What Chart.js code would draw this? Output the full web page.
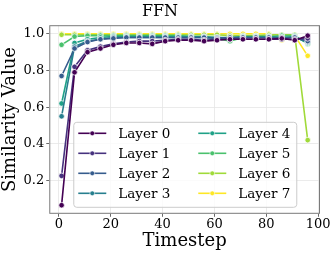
<!DOCTYPE html>
<html>
<head>
<meta charset="utf-8">
<script src="https://cdn.jsdelivr.net/npm/chart.js@4/dist/chart.umd.min.js"></script>
<style>
html,body{margin:0;padding:0;background:#fff;}
#wrap{width:335px;height:254px;position:relative;}
</style>
</head>
<body>
<div id="wrap"><canvas id="c" width="335" height="254"></canvas></div>
<script>
const timesteps = [1,6,11,16,21,26,31,36,41,46,51,56,61,66,71,76,81,86,91,96];
const layerNames = ["Layer 0","Layer 1","Layer 2","Layer 3","Layer 4","Layer 5","Layer 6","Layer 7"];
const layer0 = [0.065,0.79,0.90,0.92,0.94,0.95,0.95,0.945,0.96,0.965,0.965,0.96,0.965,0.97,0.97,0.97,0.97,0.975,0.965,0.99];
const layer1 = [0.225,0.82,0.91,0.93,0.945,0.955,0.96,0.96,0.965,0.97,0.97,0.965,0.97,0.97,0.97,0.97,0.97,0.97,0.97,0.975];
const layer2 = [0.77,0.92,0.955,0.97,0.975,0.98,0.98,0.98,0.98,0.98,0.98,0.98,0.975,0.98,0.98,0.98,0.98,0.975,0.98,0.96];
const layer3 = [0.55,0.93,0.96,0.97,0.98,0.98,0.98,0.98,0.98,0.98,0.98,0.98,0.98,0.975,0.98,0.98,0.98,0.98,0.98,0.955];
const layer4 = [0.62,0.95,0.97,0.98,0.985,0.985,0.985,0.985,0.985,0.985,0.985,0.985,0.98,0.98,0.985,0.985,0.985,0.98,0.985,0.95];
const layer5 = [0.94,0.985,0.99,0.99,0.99,0.99,0.99,0.99,0.99,0.99,0.985,0.98,0.975,0.96,0.98,0.985,0.985,0.99,0.99,0.945];
const layer6 = [0.995,0.995,0.995,0.995,0.995,0.995,0.995,0.995,0.995,0.995,0.995,0.995,0.995,0.99,0.99,0.99,0.995,0.995,0.995,0.42];
const layer7 = [1.0,1.0,1.0,1.0,1.0,1.0,1.0,1.0,1.0,1.0,1.0,1.0,1.0,1.0,1.0,1.0,1.0,0.965,0.99,0.88];
const layers = [layer0,layer1,layer2,layer3,layer4,layer5,layer6,layer7];
const colors = ["#440154","#46327e","#365c8d","#277f8e","#1fa187","#4ac16d","#a0da39","#fde725"];
const xTicks = [0,20,40,60,80,100];
const yTicks = [0.2,0.4,0.6,0.8,1.0];

const FONT = "'DejaVu Serif', serif";

const datasets = layers.map((arr,i)=>({
  label: layerNames[i],
  data: timesteps.map((t,j)=>({x:t,y:arr[j]})),
  borderColor: colors[i],
  backgroundColor: colors[i],
  pointBackgroundColor: colors[i],
  pointBorderColor: "#ffffff",
  pointBorderWidth: 0.8,
  pointRadius: 2.8,
  borderWidth: 1.6,
  tension: 0
}));

const framePlugin = {
  id: 'frame',
  beforeDatasetsDraw(chart){
    const {ctx, chartArea:a} = chart;
    ctx.save();
    ctx.strokeStyle = "#7a7a7a";
    ctx.lineWidth = 1;
    ctx.strokeRect(a.left+0.5, a.top+0.5, a.right-a.left-1, a.bottom-a.top-1);
    ctx.restore();
  }
};

const legendPlugin = {
  id: 'inlegend',
  afterDatasetsDraw(chart){
    const {ctx, chartArea:a} = chart;
    const x0 = a.left + 24, w = 223, h = 85;
    const y0 = a.bottom - 7 - h;
    ctx.save();
    ctx.fillStyle = "rgba(255,255,255,0.8)";
    ctx.strokeStyle = "#cccccc";
    ctx.lineWidth = 1;
    ctx.beginPath();
    if (ctx.roundRect) ctx.roundRect(x0+0.5, y0+0.5, w, h, 3); else ctx.rect(x0+0.5,y0+0.5,w,h);
    ctx.fill(); ctx.stroke();
    ctx.font = "13.5px " + FONT;
    ctx.textBaseline = "middle";
    ctx.fillStyle = "#000";
    for (let i=0;i<8;i++){
      const col = Math.floor(i/4), row = i%4;
      const lx = x0 + 5 + col*120;
      const ly = y0 + 11.5 + row*20;
      ctx.strokeStyle = colors[i];
      ctx.lineWidth = 1.6;
      ctx.beginPath(); ctx.moveTo(lx, ly); ctx.lineTo(lx+28, ly); ctx.stroke();
      ctx.fillStyle = colors[i];
      ctx.beginPath(); ctx.arc(lx+14, ly, 2.4, 0, Math.PI*2); ctx.fill();
      ctx.strokeStyle="#fff"; ctx.lineWidth=0.6; ctx.stroke();
      ctx.fillStyle = "#000";
      ctx.fillText(layerNames[i], lx+40, ly+1);
    }
    ctx.restore();
  }
};

new Chart(document.getElementById('c'), {
  type: 'line',
  data: { datasets },
  plugins: [framePlugin, legendPlugin],
  options: {
    responsive: false,
    animation: false,
    devicePixelRatio: 1,
    layout: { padding: { left: 0, right: 15, top: 0, bottom: 2 } },
    plugins: {
      legend: { display: false },
      tooltip: { enabled: false },
      title: {
        display: true, text: "FFN", color: "#000",
        font: { family: FONT, size: 16, weight: 'normal' },
        padding: { top: 2, bottom: 4 }
      }
    },
    scales: {
      x: {
        type: 'linear', min: -3.75, max: 100.75,
        afterBuildTicks(s){ s.ticks = xTicks.map(v=>({value:v})); },
        ticks: { color:"#000", font:{family:FONT,size:13}, padding: 0, maxRotation:0, autoSkip:false },
        grid: { color:"#e6e6e6", lineWidth:0.8, tickLength:3, tickColor:"#444" , drawTicks:true},
        border: { display:false },
        title: { display:true, text:"Timestep", color:"#000", font:{family:FONT,size:18}, padding:{top:-2,bottom:0} }
      },
      y: {
        min: 0.018, max: 1.047,
        afterBuildTicks(s){ s.ticks = yTicks.map(v=>({value:v})); },
        ticks: { color:"#000", font:{family:FONT,size:13}, padding: 2, callback:(v)=>Number(v).toFixed(1) },
        grid: { color:"#e6e6e6", lineWidth:0.8, tickLength:3, tickColor:"#444" },
        border: { display:false },
        title: { display:true, text:"Similarity Value", color:"#000", font:{family:FONT,size:18}, padding:{top:0,bottom:0} }
      }
    }
  }
});
</script>
</body>
</html>
